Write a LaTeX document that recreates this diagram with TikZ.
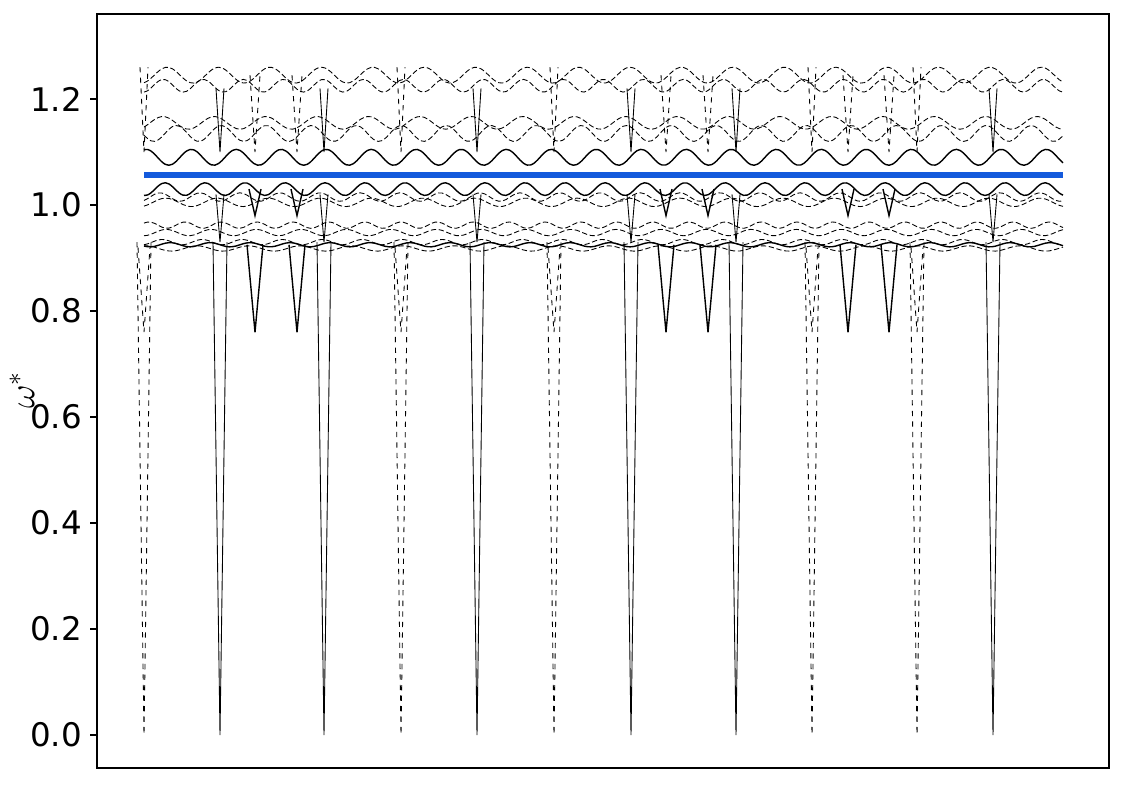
\documentclass[tikz,border=0pt]{standalone}
\usepackage{fontspec}
\setmainfont{DejaVu Sans}
\begin{document}
\begin{tikzpicture}[x=0.02cm,y=0.02cm,
    band/.style={black, line width=0.5pt, dash pattern=on 3pt off 1.5pt},
    solidband/.style={black, line width=0.8pt},
    dip/.style={black, line width=0.5pt},
    ticklabel/.style={anchor=east, font=\fontsize{18.5}{20}\selectfont},
  ]
  \useasboundingbox (0,-785) rectangle (1125,0);
  % axes
  \draw[line width=0.6pt] (97,-768) rectangle (1109,-14);
  \foreach \v [count=\i] in {0.0,0.2,0.4,0.6,0.8,1.0,1.2}{
    \coordinate (tick\i) at (97,{530*\v-735});
    \draw[line width=0.6pt] (tick\i) -- ++(-7,0);
    \node[ticklabel] (lab\i) at (88,{530*\v-735}) {\v};
  }
  \node[rotate=90, font=\fontsize{22}{24}\selectfont] (ylab) at (22,-390) {$\omega^{*}$};
  % dashed bands
  \foreach \b/\a/\k/\p in {1.245/0.015/7/0, 1.225/0.012/9/60, 1.155/0.012/7/30, 1.135/0.015/8/120,
                          1.015/0.008/9/90, 1.005/0.008/7/10, 0.962/0.006/10/40, 0.948/0.006/8/200,
                          0.93/0.005/9/70, 0.918/0.005/7/150}{
    \draw[band] plot[domain=144:1063, samples=260, smooth] (\x,{530*(\b+\a*sin(\k*\x+\p))-735});
  }
  % solid bands
  \foreach \b/\a/\k/\p in {1.09/0.015/8/0, 1.03/0.012/9/45, 0.925/0.004/9/0}{
    \draw[solidband] plot[domain=144:1063, samples=260, smooth] (\x,{530*(\b+\a*sin(\k*\x+\p))-735});
  }
  % deep dips
  \foreach \x in {220,324,477,631,736,993}{
    \draw[dip] (\x-7,{530*0.93-735}) -- (\x,-735) -- (\x+7,{530*0.93-735});
    \draw[dip] (\x-4,{530*1.22-735}) -- (\x,{530*1.10-735}) -- (\x+4,{530*1.22-735});
    \draw[dip] (\x-4,{530*1.02-735}) -- (\x,{530*0.93-735}) -- (\x+4,{530*1.02-735});
  }
  \foreach \x in {144,401,554,812,917}{
    \draw[dip, dashed] (\x-7,{530*0.93-735}) -- (\x,-735) -- (\x+7,{530*0.93-735});
    \draw[dip, dashed] (\x-6,{530*0.92-735}) -- (\x,{530*0.76-735}) -- (\x+6,{530*0.92-735});
    \draw[dip, dashed] (\x-4,{530*1.26-735}) -- (\x,{530*1.10-735}) -- (\x+4,{530*1.26-735});
  }
  % shallow dips
  \foreach \x in {255,297,666,708,848,889}{
    \draw[solidband] (\x-8,{530*0.925-735}) -- (\x,{530*0.76-735}) -- (\x+8,{530*0.925-735});
    \draw[solidband] (\x-6,{530*1.03-735}) -- (\x,{530*0.98-735}) -- (\x+6,{530*1.03-735});
    \draw[dip, dashed] (\x-5,{530*1.245-735}) -- (\x,{530*1.10-735}) -- (\x+5,{530*1.245-735});
  }
  % reference level
  \draw[line width=3.2pt, color={rgb,255:red,20;green,90;blue,220}] (144,{530*1.057-735}) -- (1063,{530*1.057-735});
\end{tikzpicture}
\end{document}
